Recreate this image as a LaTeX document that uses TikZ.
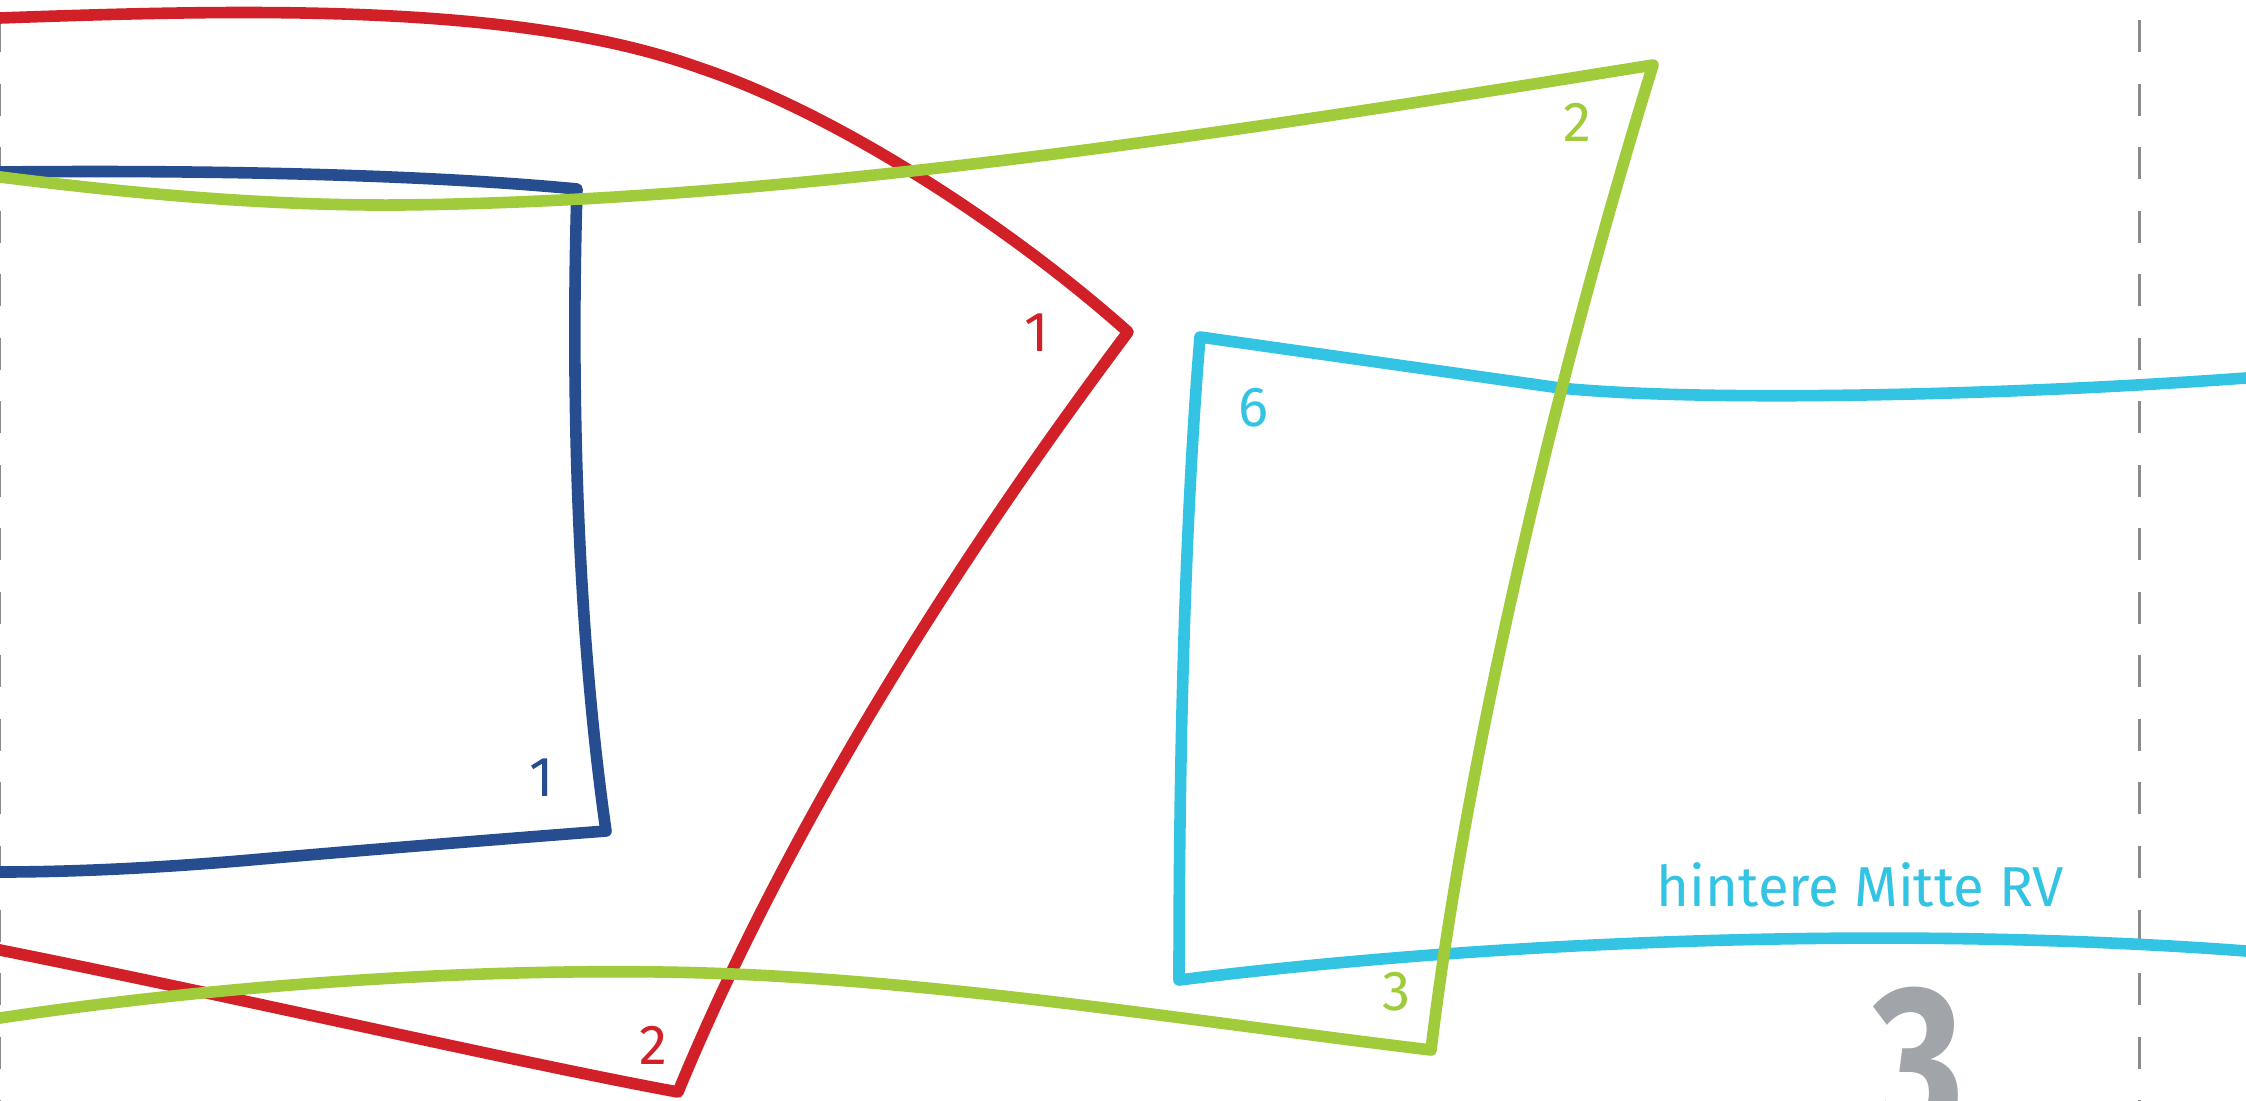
\documentclass[tikz,border=0pt]{standalone}
\usepackage{fontspec}
\setmainfont{Fira Sans}
\usepackage{tikz}
\usepackage{xcolor}
\definecolor{patred}{HTML}{D12027}
\definecolor{patblue}{HTML}{264D8F}
\definecolor{patgreen}{HTML}{A0CB3A}
\definecolor{patcyan}{HTML}{33C3E3}
\definecolor{patgray}{HTML}{A1A4A8}
\definecolor{foldgray}{HTML}{8A8B8E}
\tikzset{
  every picture/.style={line join=round, line cap=round},
}

\begin{document}
\begin{tikzpicture}[x=0.01cm, y=-0.01cm,
  piece/.style={line width=3.3pt},
  num/.style={font=\fontsize{16}{16}\selectfont, inner sep=0pt},
  fold/.style={foldgray, line width=0.85pt, line cap=butt,
    dash pattern=on 0.32cm off 0.315cm}]
\useasboundingbox (0,0) rectangle (2246,1100);
\clip (0,0) rectangle (2246,1100);
% Fold lines at both sides
\foreach \x in {0,2139}{
  \draw[fold] (\x,20) -- (\x,1110);
}
% Piece 1, dark blue
\draw[piece, patblue] (-30,172) -- (0,172)
  .. controls (200,170) and (420,174) .. (577,189)
  .. controls (570,420) and (580,650) .. (606,831)
  .. controls (450,843) and (330,853) .. (250,860)
  .. controls (170,867) and (80,872) .. (0,872) -- (-30,872);
% Piece 1, red
\draw[piece, patred] (-30,19) -- (0,18)
  .. controls (250,9) and (520,3) .. (700,68)
  .. controls (835,113) and (1008,225) .. (1128,332)
  .. controls (924,604) and (773,862) .. (678,1092)
  .. controls (520,1063) and (250,1000) .. (0,950) -- (-30,944);
% Piece 6, light blue
\draw[piece, patcyan] (2276,376) -- (2246,378)
  .. controls (2000,396) and (1700,402) .. (1560,388)
  -- (1200,337)
  .. controls (1188,480) and (1179,700) .. (1179,980)
  .. controls (1500,940) and (1900,925) .. (2246,951) -- (2276,953);
% Piece 2/3, green
\draw[piece, patgreen] (-30,173) -- (0,177)
  .. controls (120,192) and (260,206) .. (400,205)
  .. controls (800,201) and (1253,129) .. (1653,65)
  .. controls (1560,365) and (1467,750) .. (1431,1050)
  .. controls (1181,1020) and (910,975) .. (660,972)
  .. controls (440,969) and (200,988) .. (0,1018) -- (-30,1023);
% Seam numbers
\node[num, patred] (red1) at (1037,333) {1};
\node[num, patblue] (blue1) at (542,778) {1};
\node[num, patgreen] (green2) at (1577,122) {2};
\node[num, patcyan] (cyan6) at (1253,408) {6};
\node[num, patgreen] (green3) at (1397,992) {3};
\node[num, patred] (red2) at (653,1045) {2};
% Label and piece number
\node[num, patcyan, anchor=base west] (rvlabel) at (1656,906) {hintere Mitte RV};
\node[patgray, inner sep=0pt, anchor=north,
  font=\fontsize{62}{62}\selectfont\bfseries] (piecenum) at (1918,986) {\scalebox{0.82}[1]{3}};
\end{tikzpicture}
\end{document}
